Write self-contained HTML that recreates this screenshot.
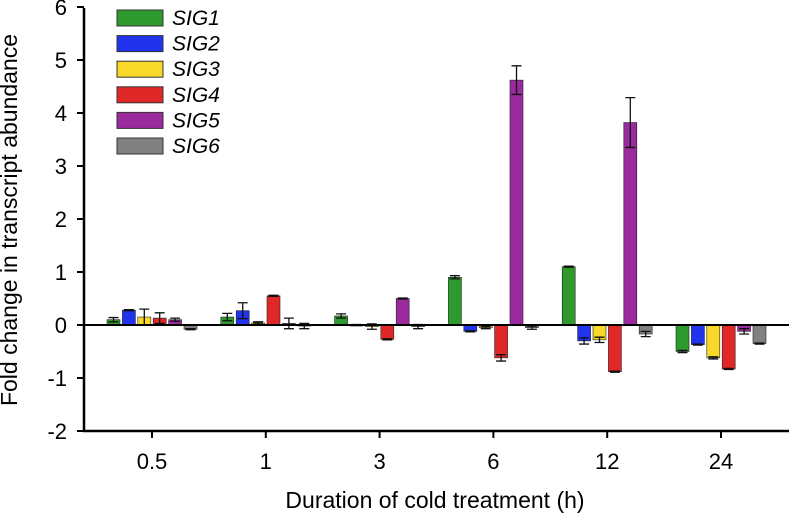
<!DOCTYPE html>
<html><head><meta charset="utf-8"><style>
body{margin:0;background:#fff}
svg{display:block;font-family:"Liberation Sans",Arial,sans-serif}
</style></head><body>
<svg id="c" width="789" height="518"></svg>
<script>
const categories=["0.5","1","3","6","12","24"];
const seriesNames=["SIG1","SIG2","SIG3","SIG4","SIG5","SIG6"];
const colors=["#2e9a2e","#2233ee","#f8d828","#e02828","#9a2a9e","#808080"];
const sig1=[0.10,0.15,0.17,0.90,1.10,-0.50];
const sig2=[0.28,0.27,0.00,-0.12,-0.30,-0.37];
const sig3=[0.15,0.04,-0.03,-0.05,-0.28,-0.62];
const sig4=[0.13,0.55,-0.27,-0.62,-0.88,-0.83];
const sig5=[0.10,0.03,0.50,4.62,3.82,-0.12];
const sig6=[-0.08,-0.02,-0.03,-0.05,-0.17,-0.35];
const err1=[0.04,0.07,0.04,0.03,0.01,0.02];
const err2=[0.01,0.15,0.01,0.01,0.06,0.01];
const err3=[0.15,0.02,0.05,0.02,0.05,0.02];
const err4=[0.10,0.01,0.01,0.06,0.01,0.01];
const err5=[0.03,0.10,0.01,0.27,0.47,0.05];
const err6=[0.01,0.05,0.04,0.03,0.05,0.01];
const yTicks=[-2,-1,0,1,2,3,4,5,6];
const series=[sig1,sig2,sig3,sig4,sig5,sig6];
const errs=[err1,err2,err3,err4,err5,err6];
const NS="http://www.w3.org/2000/svg";
const svg=document.getElementById('c');
function el(t,a,p){const e=document.createElementNS(NS,t);for(const k in a)e.setAttribute(k,a[k]);(p||svg).appendChild(e);return e;}
const y0=325,ppu=53;
const Y=v=>y0-v*ppu;
const X=i=>152+i*113.8;
const bw=13,pitch=15.4;
series.forEach((s,si)=>{s.forEach((v,ci)=>{
  const x=X(ci)-45+si*pitch;
  const r=el('rect',{x:x,y:Math.min(Y(v),y0),width:bw,height:Math.max(Math.abs(Y(v)-y0),1),fill:colors[si],stroke:'#222','stroke-width':0.6});
  
  
  const e=errs[si][ci],cx=x+bw/2;
  const g=el('path',{d:`M${cx} ${Y(v+e)}V${Y(v-e)}M${cx-5} ${Y(v+e)}H${cx+5}M${cx-5} ${Y(v-e)}H${cx+5}`,stroke:'#111','stroke-width':1.3,fill:'none'});
  
  
});});
const za=el('line',{x1:84,x2:789,y1:y0,y2:y0,stroke:'#000','stroke-width':2});

const ya=el('line',{x1:84,x2:84,y1:8,y2:432,stroke:'#000','stroke-width':2.5});

const xa=el('line',{x1:83,x2:789,y1:431,y2:431,stroke:'#000','stroke-width':2.5});

yTicks.forEach(t=>{
  el('line',{x1:77,x2:84,y1:Y(t),y2:Y(t),stroke:'#000','stroke-width':2});
  const tx=el('text',{x:67,y:Y(t)+8,'font-size':22,'text-anchor':'end'});tx.textContent=t;
  
});
categories.forEach((c,i)=>{
  el('line',{x1:X(i),x2:X(i),y1:431,y2:438,stroke:'#000','stroke-width':2});
  const tx=el('text',{x:X(i),y:469,'font-size':22,'text-anchor':'middle'});tx.textContent=c;
  
});
const xt=el('text',{x:435,y:508,'font-size':23,'text-anchor':'middle'});xt.textContent='Duration of cold treatment (h)';

const yt=el('text',{x:0,y:0,'font-size':23,'text-anchor':'middle',transform:'translate(17,220) rotate(-90)'});yt.textContent='Fold change in transcript abundance';

seriesNames.forEach((n,i)=>{
  const yy=10+i*25.6;
  const r=el('rect',{x:117,y:yy,width:46,height:16,fill:colors[i],stroke:'#333','stroke-width':1});
  
  const tx=el('text',{x:172,y:yy+15,'font-size':21,'font-style':'italic'});tx.textContent=n;
  
});
</script>
</body></html>
